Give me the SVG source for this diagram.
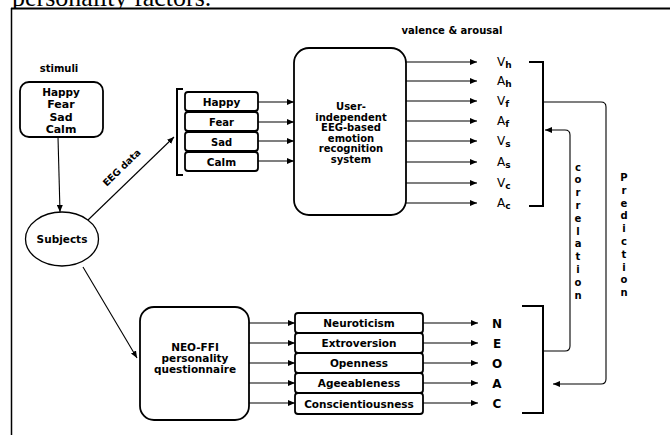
<svg xmlns="http://www.w3.org/2000/svg" width="670" height="435" viewBox="0 0 670 435">
<defs>
<style>
.t{font-family:"DejaVu Sans","Liberation Sans",sans-serif;font-weight:bold;fill:#000;text-anchor:middle}
.box{fill:#fff;stroke:#000;stroke-width:1.8}
.ln{fill:none;stroke:#000;stroke-width:1.1}
.br{fill:none;stroke:#000;stroke-width:2}
.lab{font-family:"DejaVu Sans","Liberation Sans",sans-serif;font-size:12px;fill:#000}
</style>
<marker id="ah" markerUnits="userSpaceOnUse" markerWidth="8" markerHeight="6" refX="7" refY="3" orient="auto">
<path d="M0,0 L7,3 L0,6 z" fill="#000"/>
</marker>
</defs>
<rect width="670" height="435" fill="#fff"/>
<text x="12" y="6" font-family="Liberation Serif,serif" font-size="26">personality factors.</text>
<rect x="12" y="9" width="658" height="426" fill="#fff"/>
<g id="frame">
<line x1="11" y1="8.5" x2="670" y2="8.5" stroke="#000" stroke-width="2"/>
<line x1="11.5" y1="8" x2="11.5" y2="435" stroke="#000" stroke-width="1.5"/>
</g>

<g id="stimuli">
<text class="t" x="59" y="72" font-size="10">stimuli</text>
<rect class="box" x="20" y="82" width="83" height="55" rx="9"/>
<text class="t" x="61" y="96" font-size="10.5">Happy</text>
<text class="t" x="61" y="108" font-size="11">Fear</text>
<text class="t" x="61" y="120.5" font-size="11">Sad</text>
<text class="t" x="61" y="133" font-size="11">Calm</text>
</g>

<g id="subjects">
<ellipse cx="62" cy="239" rx="36.5" ry="27" fill="#fff" stroke="#000" stroke-width="1.3"/>
<text class="t" x="62" y="243" font-size="10.5">Subjects</text>
</g>

<g id="emotions">
<rect class="box" x="185" y="92" width="73" height="19" rx="3"/>
<text class="t" x="221.5" y="105.5" font-size="10.5">Happy</text>
<rect class="box" x="185" y="112" width="73" height="19" rx="3"/>
<text class="t" x="221.5" y="125.5" font-size="10">Fear</text>
<rect class="box" x="185" y="132" width="73" height="19" rx="3"/>
<text class="t" x="221.5" y="145.5" font-size="10">Sad</text>
<rect class="box" x="185" y="152" width="73" height="19" rx="3"/>
<text class="t" x="221.5" y="165.5" font-size="10.5">Calm</text>
</g>

<g id="recognition">
<rect class="box" x="294" y="48" width="112" height="167" rx="15"/>
<text class="t" x="351" y="110" font-size="10">User-</text>
<text class="t" x="351" y="120.5" font-size="10">independent</text>
<text class="t" x="351" y="131" font-size="10">EEG-based</text>
<text class="t" x="351" y="141.5" font-size="10">emotion</text>
<text class="t" x="351" y="152" font-size="10">recognition</text>
<text class="t" x="351" y="162.5" font-size="10">system</text>
</g>

<g id="va">
<text class="t" x="452" y="34" font-size="10">valence &amp; arousal</text>
<text class="lab" x="497" y="66">V<tspan font-size="9" font-weight="bold" dy="2">h</tspan></text>
<text class="lab" x="497" y="85">A<tspan font-size="9" font-weight="bold" dy="2">h</tspan></text>
<text class="lab" x="497" y="105">V<tspan font-size="9" font-weight="bold" dy="2">f</tspan></text>
<text class="lab" x="497" y="125">A<tspan font-size="9" font-weight="bold" dy="2">f</tspan></text>
<text class="lab" x="497" y="145">V<tspan font-size="9" font-weight="bold" dy="2">s</tspan></text>
<text class="lab" x="497" y="166">A<tspan font-size="9" font-weight="bold" dy="2">s</tspan></text>
<text class="lab" x="497" y="187">V<tspan font-size="9" font-weight="bold" dy="2">c</tspan></text>
<text class="lab" x="497" y="207">A<tspan font-size="9" font-weight="bold" dy="2">c</tspan></text>
</g>

<g id="neo">
<rect class="box" x="140" y="307" width="109" height="113" rx="14"/>
<text class="t" x="195" y="351" font-size="10.5">NEO-FFI</text>
<text class="t" x="195" y="362" font-size="10.5">personality</text>
<text class="t" x="195" y="373" font-size="10.5">questionnaire</text>
</g>

<g id="traits">
<rect class="box" x="295" y="313" width="128" height="20" rx="3"/>
<text class="t" x="359" y="327" font-size="10.5">Neuroticism</text>
<rect class="box" x="295" y="333" width="128" height="20" rx="3"/>
<text class="t" x="359" y="347" font-size="10.5">Extroversion</text>
<rect class="box" x="295" y="353" width="128" height="20" rx="3"/>
<text class="t" x="359" y="367" font-size="10.5">Openness</text>
<rect class="box" x="295" y="373" width="128" height="20" rx="3"/>
<text class="t" x="359" y="387" font-size="10.5">Ageeableness</text>
<rect class="box" x="295" y="393" width="128" height="21" rx="3"/>
<text class="t" x="359" y="407.5" font-size="10.5">Conscientiousness</text>
</g>

<g id="neoac">
<text class="t" x="497" y="327.5" font-size="12">N</text>
<text class="t" x="497" y="347.5" font-size="12">E</text>
<text class="t" x="497" y="367.5" font-size="12">O</text>
<text class="t" x="497" y="387.5" font-size="12">A</text>
<text class="t" x="497" y="407.5" font-size="12">C</text>
</g>

<g id="connectors">
<line class="ln" x1="58" y1="137" x2="60" y2="212" marker-end="url(#ah)"/>
<line class="ln" x1="88" y1="220" x2="174" y2="137" marker-end="url(#ah)"/>
<text class="t" x="124" y="170" font-size="9.5" transform="rotate(-44 124 170)">EEG data</text>
<line class="ln" x1="83" y1="267" x2="137" y2="358" marker-end="url(#ah)"/>

<path class="br" d="M183,89 H177 V175 H183"/>
<line class="ln" x1="258" y1="102" x2="294" y2="102" marker-end="url(#ah)"/>
<line class="ln" x1="258" y1="122" x2="294" y2="122" marker-end="url(#ah)"/>
<line class="ln" x1="258" y1="141" x2="294" y2="141" marker-end="url(#ah)"/>
<line class="ln" x1="258" y1="161" x2="294" y2="161" marker-end="url(#ah)"/>

<line class="ln" x1="406" y1="62" x2="477" y2="62" marker-end="url(#ah)"/>
<line class="ln" x1="406" y1="81" x2="477" y2="81" marker-end="url(#ah)"/>
<line class="ln" x1="406" y1="101" x2="477" y2="101" marker-end="url(#ah)"/>
<line class="ln" x1="406" y1="121" x2="477" y2="121" marker-end="url(#ah)"/>
<line class="ln" x1="406" y1="141" x2="477" y2="141" marker-end="url(#ah)"/>
<line class="ln" x1="406" y1="162" x2="477" y2="162" marker-end="url(#ah)"/>
<line class="ln" x1="406" y1="183" x2="477" y2="183" marker-end="url(#ah)"/>
<line class="ln" x1="406" y1="203" x2="477" y2="203" marker-end="url(#ah)"/>
<path class="br" d="M529,62 H543 V206 H529"/>

<line class="ln" x1="249" y1="323" x2="295" y2="323" marker-end="url(#ah)"/>
<line class="ln" x1="249" y1="343" x2="295" y2="343" marker-end="url(#ah)"/>
<line class="ln" x1="249" y1="363" x2="295" y2="363" marker-end="url(#ah)"/>
<line class="ln" x1="249" y1="383" x2="295" y2="383" marker-end="url(#ah)"/>
<line class="ln" x1="249" y1="403" x2="295" y2="403" marker-end="url(#ah)"/>
<line class="ln" x1="423" y1="323" x2="478" y2="323" marker-end="url(#ah)"/>
<line class="ln" x1="423" y1="343" x2="478" y2="343" marker-end="url(#ah)"/>
<line class="ln" x1="423" y1="363" x2="478" y2="363" marker-end="url(#ah)"/>
<line class="ln" x1="423" y1="383" x2="478" y2="383" marker-end="url(#ah)"/>
<line class="ln" x1="423" y1="403" x2="478" y2="403" marker-end="url(#ah)"/>
<path class="br" d="M522,306 H543 V413 H522"/>

<path class="ln" d="M543,102 H601 Q606,102 606,107 V379 Q606,384 601,384 H553" marker-end="url(#ah)"/>
<path class="ln" d="M543,351 H565 Q570,351 570,346 V135 Q570,130 565,130 H545" stroke="#555" stroke-width="1.6" marker-end="url(#ah)"/>

<text class="t" font-size="10">
<tspan x="578" y="170.5">c</tspan><tspan x="578" y="183.3">o</tspan><tspan x="578" y="196.1">r</tspan><tspan x="578" y="208.9">r</tspan><tspan x="578" y="221.7">e</tspan><tspan x="578" y="234.5">l</tspan><tspan x="578" y="247.3">a</tspan><tspan x="578" y="260.1">t</tspan><tspan x="578" y="272.9">i</tspan><tspan x="578" y="285.7">o</tspan><tspan x="578" y="298.5">n</tspan>
</text>
<text class="t" font-size="10">
<tspan x="624" y="181">P</tspan><tspan x="624" y="193.8">r</tspan><tspan x="624" y="206.6">e</tspan><tspan x="624" y="219.4">d</tspan><tspan x="624" y="232.2">i</tspan><tspan x="624" y="245">c</tspan><tspan x="624" y="257.8">t</tspan><tspan x="624" y="270.6">i</tspan><tspan x="624" y="283.4">o</tspan><tspan x="624" y="296.2">n</tspan>
</text>
</g>
</svg>
